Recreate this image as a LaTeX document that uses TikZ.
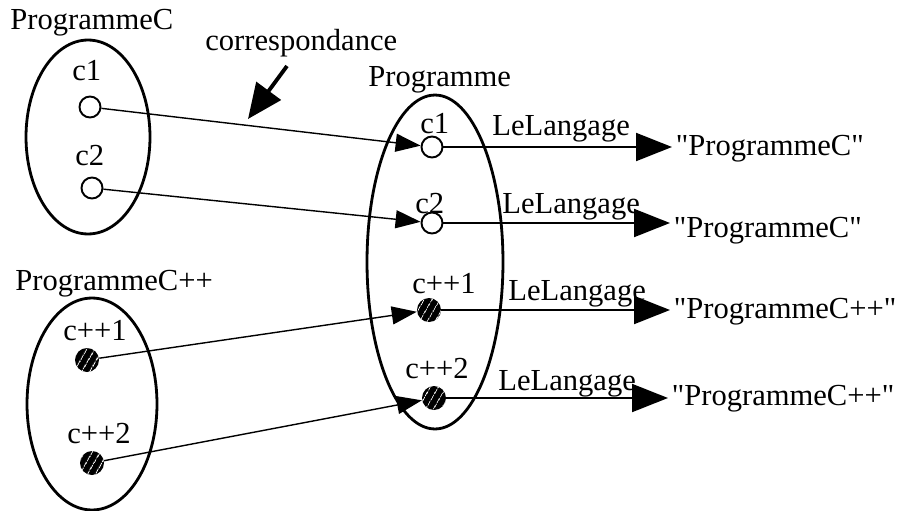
\documentclass[tikz,border=0pt]{standalone}
\usepackage{fontspec}
\setmainfont{Liberation Serif}
\newfontfamily\qfont{Liberation Serif}
\usepackage{tikz}
\usetikzlibrary{arrows.meta,shapes.geometric,patterns.meta}
\tikzset{
  grp/.style={draw,ellipse,line width=1.6pt,inner sep=0pt},
  obj/.style={draw,circle,line width=1.1pt,fill=white,inner sep=0pt,minimum size=0.42cm},
  objpp/.style={circle,inner sep=0pt,minimum size=0.48cm,preaction={fill=black},
    pattern={Lines[angle=60,distance=4pt,line width=0.5pt]},pattern color=white},
  txt/.style={anchor=base west,inner sep=0pt},
  corr/.style={line width=0.8pt,-{Triangle[length=0.5cm,width=0.36cm]}},
  lang/.style={line width=1.2pt,-{Triangle[length=0.72cm,width=0.56cm]}}
}
\newcommand{\strq}[1]{{\qfont"}#1{\qfont"}}

\begin{document}
\begin{tikzpicture}[x=0.02cm,y=-0.02cm,line join=round,font=\fontsize{17.4}{20}\selectfont]
\useasboundingbox (0,0) rectangle (904,511);
% --- the three sets
\node[grp,minimum width=2.48cm,minimum height=3.88cm] (setC) at (88,137) {};
\node[grp,minimum width=2.6cm,minimum height=4.24cm] (setCpp) at (92,404) {};
\node[grp,minimum width=2.72cm,minimum height=6.68cm] (setProg) at (435,262) {};
\node[txt] (nameC) at (10,29) {ProgrammeC};
\node[txt] (nameCpp) at (15,290) {ProgrammeC++};
\node[txt] (nameProg) at (368,86) {Programme};
% --- objects on the left
\node[obj] (lc1) at (90,107) {};    \node[txt] (lc1t) at (72,80) {c1};
\node[obj] (lc2) at (92,188) {};    \node[txt] (lc2t) at (75,165) {c2};
\node[objpp] (lcpp1) at (87,360) {}; \node[txt] (lcpp1t) at (63,340) {c++1};
\node[objpp] (lcpp2) at (92,463) {}; \node[txt] (lcpp2t) at (67,443) {c++2};
% --- objects in Programme
\node[obj] (pc1) at (432,147) {};    \node[txt] (pc1t) at (420,133) {c1};
\node[obj] (pc2) at (432,223) {};    \node[txt] (pc2t) at (415,213) {c2};
\node[objpp] (pcpp1) at (429,310) {}; \node[txt] (pcpp1t) at (412,293) {c++1};
\node[objpp] (pcpp2) at (434,398) {}; \node[txt] (pcpp2t) at (405,378) {c++2};
% --- correspondance
\draw[corr] (lc1) -- (pc1);
\draw[corr] (lc2) -- (pc2);
\draw[corr] (lcpp1) -- (pcpp1);
\draw[corr] (lcpp2) -- (pcpp2);
\node[txt] (corr) at (205,50) {correspondance};
\coordinate (corrA) at (287,66);
\coordinate (corrB) at (248,119);
\draw[line width=2.2pt,-{Triangle[length=0.7cm,width=0.6cm]}] (corrA) -- (corrB);
% --- LeLangage values
\node[txt,inner sep=2pt] (val1) at (672,155) {\strq{ProgrammeC}};
\node[txt,inner sep=2pt] (val2) at (670,237) {\strq{ProgrammeC}};
\node[txt,inner sep=2pt] (val3) at (670,318) {\strq{ProgrammeC++}};
\node[txt,inner sep=2pt] (val4) at (668,405) {\strq{ProgrammeC++}};
\draw[lang] (pc1) -- (pc1 -| val1.west);
\draw[lang] (pc2) -- (pc2 -| val2.west);
\draw[lang] (pcpp1) -- (pcpp1 -| val3.west);
\draw[lang] (pcpp2) -- (pcpp2 -| val4.west);
\node[txt] (lang1) at (492,135) {LeLangage};
\node[txt] (lang2) at (502,213) {LeLangage};
\node[txt] (lang3) at (508,300) {LeLangage};
\node[txt] (lang4) at (498,390) {LeLangage};
\end{tikzpicture}
\end{document}
